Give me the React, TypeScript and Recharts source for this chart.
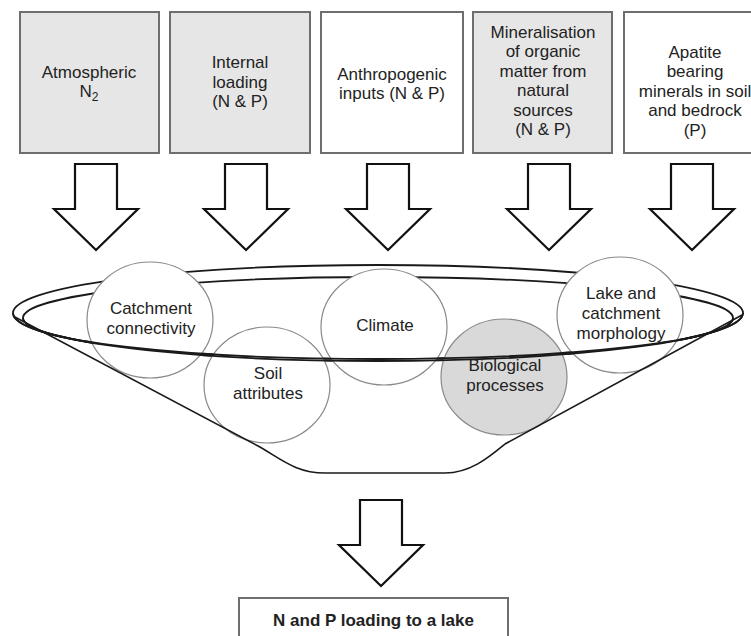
import { ScatterChart, Scatter, XAxis, YAxis } from "recharts";

const W = 751;
const H = 636;

// source boxes along the top
const sourceLabels = [
  ["Atmospheric", "N_2"],
  ["Internal", "loading", "(N & P)"],
  ["Anthropogenic", "inputs (N & P)"],
  ["Mineralisation", "of organic", "matter from", "natural", "sources", "(N & P)"],
  ["Apatite", "bearing", "minerals in soil", "and bedrock", "(P)"],
];
const sourceShaded = [true, true, false, true, false];

// factors inside the funnel
const factorLabels = [
  ["Catchment", "connectivity"],
  ["Soil", "attributes"],
  ["Climate"],
  ["Biological", "processes"],
  ["Lake and", "catchment", "morphology"],
];
const factorShaded = [false, false, false, true, false];

const outputLabel = "N and P loading to a lake";

// layout (diagram units = pixels)
const sourceLeft = [20, 170, 321, 473, 624];
const sourceRight = [159, 310, 463, 612, 776];
const sourceTop = 12;
const sourceBottom = 153;
const sourceTextMid = [82, 82, 84, 81, 91];
const sourceTextX = [89, 240, 392, 543, 695];
const arrowX = [96, 246, 388, 549, 692];
const arrowWingY = 209;
const factorX = [150, 267, 384, 504, 620];
const factorY = [320, 385, 327, 377, 315];
const ringCenter = { x: 378, y: 313 };
const outArrow = { x: 381, y: 545 };
const outBox = { left: 239, right: 508, top: 598 };

const FONT = "'Liberation Sans', Arial, sans-serif";
const TEXT = "#222";

const sourceData = sourceLabels.map((lines, i) => ({
  x: sourceLeft[i],
  y: sourceTop,
  lines,
  shaded: sourceShaded[i],
  w: sourceRight[i] - sourceLeft[i],
  h: sourceBottom - sourceTop,
  tx: sourceTextX[i] - sourceLeft[i],
  ty: sourceTextMid[i] - sourceTop,
}));
const arrowData = [
  ...arrowX.map((x) => ({ x, y: arrowWingY })),
  { x: outArrow.x, y: outArrow.y },
];
const factorData = factorLabels.map((lines, i) => ({
  x: factorX[i],
  y: factorY[i],
  lines,
  shaded: factorShaded[i],
}));
const ringData = [{ x: ringCenter.x, y: ringCenter.y }];
const outData = [{ x: outBox.left, y: outBox.top, label: outputLabel, w: outBox.right - outBox.left }];

const renderLine = (s: string) => {
  if (s.includes("_")) {
    const [a, b] = s.split("_");
    return (
      <>
        {a}
        <tspan dy={5} fontSize={12}>{b}</tspan>
      </>
    );
  }
  return s;
};

const SourceBox = (props: any) => {
  const { cx, cy, payload } = props;
  const n = payload.lines.length;
  return (
    <g>
      <rect
        x={cx}
        y={cy}
        width={payload.w}
        height={payload.h}
        fill={payload.shaded ? "#e6e6e6" : "#ffffff"}
        stroke="#6e6e6e"
        strokeWidth={2}
      />
      {payload.lines.map((l: string, i: number) => (
        <text
          key={i}
          x={cx + payload.tx}
          y={cy + payload.ty + (i - (n - 1) / 2) * 19.5}
          textAnchor="middle"
          dominantBaseline="central"
          fontFamily={FONT}
          fontSize={17}
          fill={TEXT}
        >
          {renderLine(l)}
        </text>
      ))}
    </g>
  );
};

const Arrow = (props: any) => {
  const { cx, cy } = props;
  const pts = [
    [-21, -45],
    [21, -45],
    [21, 0],
    [42, 0],
    [0, 41],
    [-42, 0],
    [-21, 0],
  ]
    .map(([dx, dy]) => `${cx + dx},${cy + dy}`)
    .join(" ");
  return <polygon points={pts} fill="#fff" stroke="#111" strokeWidth={2.2} strokeLinejoin="miter" />;
};

const RingBack = (props: any) => {
  const { cx, cy } = props;
  return (
    <g fill="none" stroke="#1a1a1a" strokeWidth={1.8}>
      <ellipse cx={cx} cy={cy} rx={365} ry={48} />
      <ellipse cx={cx} cy={cy + 5} rx={355} ry={41} />
    </g>
  );
};

const RingFront = (props: any) => {
  const { cx, cy } = props;
  const arc = (rx: number, ry: number, oy: number) =>
    `M ${cx - rx},${cy + oy} A ${rx} ${ry} 0 0 0 ${cx + rx},${cy + oy}`;
  const p = (dx: number, dy: number) => `${cx + dx},${cy + dy}`;
  const bowl = [
    `M ${p(-365, 3)}`,
    `L ${p(-120, 133)}`,
    `C ${p(-98, 145)} ${p(-83, 160)} ${p(-53, 160)}`,
    `L ${p(67, 160)}`,
    `C ${p(92, 160)} ${p(110, 145)} ${p(127, 131)}`,
    `L ${p(364, 2)}`,
  ].join(" ");
  return (
    <g fill="none" stroke="#1a1a1a" strokeWidth={1.8}>
      <path d={arc(365, 48, 0)} />
      <path d={arc(355, 41, 5)} />
      <path d={bowl} strokeWidth={1.6} />
    </g>
  );
};

const Factor = (props: any) => {
  const { cx, cy, payload } = props;
  const n = payload.lines.length;
  return (
    <g>
      <ellipse
        cx={cx}
        cy={cy}
        rx={63}
        ry={58}
        fill={payload.shaded ? "#d9d9d9" : "#ffffff"}
        stroke="#8a8a8a"
        strokeWidth={1.2}
      />
      {payload.lines.map((l: string, i: number) => (
        <text
          key={i}
          x={cx + 1}
          y={cy - 2 + (i - (n - 1) / 2) * 20}
          textAnchor="middle"
          dominantBaseline="central"
          fontFamily={FONT}
          fontSize={17}
          fill={TEXT}
        >
          {l}
        </text>
      ))}
    </g>
  );
};

const OutBox = (props: any) => {
  const { cx, cy, payload } = props;
  return (
    <g>
      <rect x={cx} y={cy} width={payload.w} height={60} fill="#fff" stroke="#6e6e6e" strokeWidth={2} />
      <text
        x={cx + payload.w / 2}
        y={cy + 22}
        textAnchor="middle"
        dominantBaseline="central"
        fontFamily={FONT}
        fontSize={17}
        fontWeight="bold"
        fill={TEXT}
      >
        {payload.label}
      </text>
    </g>
  );
};

export default function App() {
  return (
    <div style={{ position: "absolute", left: 0, top: 0, background: "#fff" }}>
      <ScatterChart width={W} height={H} margin={{ top: 0, right: 0, bottom: 0, left: 0 }}>
        <XAxis type="number" dataKey="x" domain={[0, W]} hide />
        <YAxis type="number" dataKey="y" domain={[0, H]} reversed hide />
        <Scatter data={sourceData} shape={SourceBox} isAnimationActive={false} />
        <Scatter data={arrowData} shape={Arrow} isAnimationActive={false} />
        <Scatter data={ringData} shape={RingBack} isAnimationActive={false} />
        <Scatter data={factorData} shape={Factor} isAnimationActive={false} />
        <Scatter data={ringData} shape={RingFront} isAnimationActive={false} />
        <Scatter data={outData} shape={OutBox} isAnimationActive={false} />
      </ScatterChart>
    </div>
  );
}
